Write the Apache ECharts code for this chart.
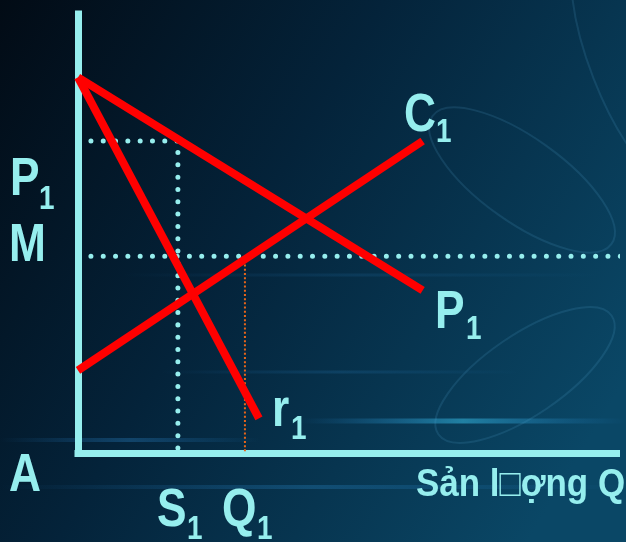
<!DOCTYPE html>
<html>
<head>
<meta charset="utf-8">
<style>
  html, body { margin: 0; padding: 0; background: #031321; }
  #chart { width: 626px; height: 542px; }
</style>
<script src="https://cdn.jsdelivr.net/npm/echarts@6/dist/echarts.min.js"></script>
</head>
<body>
<div id="chart"></div>
<script>
// ---- data (abstract units: quantity 0..100, price 0..100) ----
const demandP1 = [[0, 85.6], [64.0, 37.1]];   // line ending at label P1
const curveR1  = [[0, 85.6], [33.6, 8.0]];    // line ending at label r1
const curveC1  = [[0, 18.9], [64.0, 71.1]];   // line ending at label C1
const levelP1 = 71.1;   // price level P1
const levelM  = 44.9;   // price level M
const qS1 = 18.55;      // quantity S1
const qQ1 = 31.0;       // quantity Q1
const guideStart = 2.4;
const guideEnd = 101.8;
const xLabel = 'Sản l\u25A1ợng Q';

const FONT = '"Liberation Sans", Arial, sans-serif';
const TXT = '#96EEEE';
const RED = '#FF0000';

const chart = echarts.init(document.getElementById('chart'), null, { renderer: 'canvas' });

function lbl(text, x, y, size, sx) {
  return {
    type: 'text', x: x, y: y, z: 100, silent: true, scaleX: sx || 0.82,
    style: { text: text, fill: TXT, font: 'bold ' + size + 'px ' + FONT,
             align: 'left', verticalAlign: 'middle' }
  };
}
function streak(y, x0, x1, h, color, op) {
  return {
    type: 'rect', z: -90, silent: true,
    shape: { x: x0, y: y - h / 2, width: x1 - x0, height: h },
    style: {
      opacity: op,
      fill: new echarts.graphic.LinearGradient(0, 0, 1, 0, [
        { offset: 0, color: 'rgba(40,140,220,0)' },
        { offset: 0.5, color: color },
        { offset: 1, color: 'rgba(40,140,220,0)' }
      ])
    }
  };
}
function ell(cx, cy, rx, ry, rot) {
  return {
    type: 'ellipse', z: -80, silent: true,
    x: cx, y: cy, rotation: rot,
    shape: { cx: 0, cy: 0, rx: rx, ry: ry },
    style: { fill: 'none', stroke: 'rgba(90,170,210,0.16)', lineWidth: 2 }
  };
}

const dotted = { color: TXT, width: 5, type: [0.01, 12.3], cap: 'round' };

const option = {
  animation: false,
  backgroundColor: 'transparent',
  grid: { left: 78, right: 9.5, top: 14, bottom: 88.5 },
  xAxis: {
    type: 'value', min: 0, max: 100,
    axisLine: { show: true, onZero: false, lineStyle: { color: TXT, width: 7, cap: 'square' } },
    axisTick: { show: false }, axisLabel: { show: false }, splitLine: { show: false }
  },
  yAxis: {
    type: 'value', min: 0, max: 100,
    axisLine: { show: true, onZero: false, lineStyle: { color: TXT, width: 7, cap: 'square' } },
    axisTick: { show: false }, axisLabel: { show: false }, splitLine: { show: false }
  },
  graphic: [
    {
      type: 'rect', z: -100, silent: true,
      shape: { x: 0, y: 0, width: 626, height: 542 },
      style: {
        fill: new echarts.graphic.LinearGradient(0, 0, 1, 0.7, [
          { offset: 0, color: '#020b15' },
          { offset: 0.45, color: '#04233a' },
          { offset: 1, color: '#0a4766' }
        ])
      }
    },
    streak(421, 300, 626, 5, '#35b8e0', 0.55),
    streak(440, 0, 260, 4, '#2a80c0', 0.35),
    streak(487, 0, 626, 4, '#2a88c8', 0.3),
    streak(372, 160, 520, 3, '#2a80c0', 0.2),
    streak(275, 120, 600, 3, '#2a80c0', 0.15),
    ell(522, 180, 110, 42, -0.62),
    ell(525, 375, 105, 40, 0.6),
    ell(640, 60, 140, 50, -1.2),
    lbl('P', 10, 180, 54), lbl('1', 39, 200, 34),
    lbl('M', 9, 246.5, 54),
    lbl('A', 9, 476, 54),
    lbl('S', 157, 511, 54), lbl('1', 187, 530, 34),
    lbl('Q', 222, 511, 54), lbl('1', 257, 530, 34),
    lbl('C', 404, 116, 54), lbl('1', 436, 133, 34),
    lbl('P', 435, 313, 54), lbl('1', 466, 330, 34),
    lbl('r', 272, 411, 54), lbl('1', 291, 430, 34),
    lbl(xLabel, 416, 486, 38, 0.92)
  ],
  series: [
    { type: 'line', silent: true, symbol: 'none', z: 3, clip: false,
      data: [[guideStart, levelP1], [qS1, levelP1], [qS1, 0]], lineStyle: dotted },
    { type: 'line', silent: true, symbol: 'none', z: 3, clip: false,
      data: [[guideStart, levelM], [guideEnd, levelM]], lineStyle: dotted },
    { type: 'line', silent: true, symbol: 'none', z: 3, clip: false,
      data: [[qQ1, levelM], [qQ1, 0]],
      lineStyle: { color: '#E8651A', width: 2, type: [2, 2.2] } },
    { type: 'line', silent: true, symbol: 'none', z: 5, clip: false,
      data: demandP1, lineStyle: { color: RED, width: 8 } },
    { type: 'line', silent: true, symbol: 'none', z: 5, clip: false,
      data: curveR1, lineStyle: { color: RED, width: 8 } },
    { type: 'line', silent: true, symbol: 'none', z: 5, clip: false,
      data: curveC1, lineStyle: { color: RED, width: 8 } }
  ]
};
chart.setOption(option);
</script>
</body>
</html>
